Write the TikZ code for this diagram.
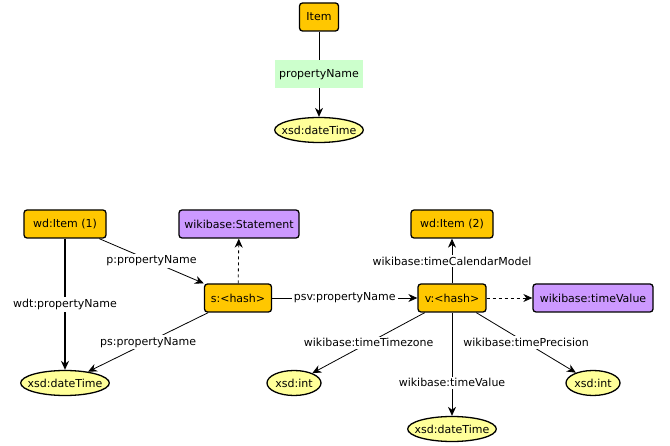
\documentclass[tikz,border=0pt]{standalone}
\usepackage{fontspec}
\setmainfont{DejaVu Sans}
\usepackage{tikz}
\usetikzlibrary{arrows.meta, shapes.geometric}
\definecolor{itemOrange}{rgb}{1,0.78,0}
\definecolor{classPurple}{rgb}{0.8,0.6,1}
\definecolor{literalYellow}{rgb}{1,1,0.6}
\definecolor{propGreen}{rgb}{0.8,1,0.8}
\tikzset{
  res/.style={draw, line width=1.3pt, rounded corners=3pt, fill=itemOrange, minimum height=28pt, inner xsep=4pt, font=\fontsize{11}{13}\selectfont},
  cls/.style={res, fill=classPurple},
  lit/.style={draw, line width=1.3pt, ellipse, fill=literalYellow, minimum height=25pt, inner xsep=-6pt, font=\fontsize{11}{13}\selectfont},
  lbl/.style={fill=white, inner sep=2pt, font=\fontsize{11}{13}\selectfont},
  rel/.style={-{Stealth[length=9pt,width=8pt]}, line width=0.8pt},
}
\begin{document}
\begin{tikzpicture}[x=1pt, y=-1pt]
	\useasboundingbox (0,0) rectangle (670,446);
	% top: generic pattern
	\node[res, minimum width=39pt] (item) at (319,17) {Item};
	\node[lit] (top date) at (319,130) {xsd:dateTime};
	\draw[rel] (item) -- node[fill=propGreen, minimum height=28pt, inner xsep=4pt, font=\fontsize{11}{13}\selectfont] (prop) {propertyName} (top date);
	% bottom: statement and value nodes
	\node[res, minimum width=82pt] (item1) at (65,224) {wd:Item (1)};
	\node[cls, minimum width=120pt] (stmt class) at (239,224) {wikibase:Statement};
	\node[res, minimum width=67pt] (s hash) at (238,298) {s:<hash>};
	\node[lit] (date1) at (65,383) {xsd:dateTime};
	\node[res, minimum width=68pt] (v hash) at (452,298) {v:<hash>};
	\node[res, minimum width=82pt] (item2) at (452,224) {wd:Item (2)};
	\node[cls, minimum width=120pt] (value class) at (593,298) {wikibase:timeValue};
	\node[lit, minimum width=54pt] (int1) at (294,383) {xsd:int};
	\node[lit, minimum width=54pt] (int2) at (593,383) {xsd:int};
	\node[lit] (date2) at (452,429) {xsd:dateTime};

	\draw[rel, line width=2.4pt] (item1) -- node[lbl] {wdt:propertyName} (date1);
	\draw[rel] (item1) -- node[lbl] {p:propertyName} (s hash);
	\draw[rel, dashed] (s hash) -- (stmt class);
	\draw[rel] (s hash) -- node[lbl] {ps:propertyName} (date1);
	\draw[rel] (s hash) -- node[lbl] {psv:propertyName} (v hash);
	\draw[rel] (v hash) -- node[lbl] {wikibase:timeCalendarModel} (item2);
	\draw[rel, dashed] (v hash) -- (value class);
	\draw[rel] (v hash) -- node[lbl] {wikibase:timeTimezone} (int1);
	\draw[rel] (v hash) -- node[lbl] {wikibase:timePrecision} (int2);
	\draw[rel] (v hash) -- node[lbl, pos=0.68] {wikibase:timeValue} (date2);
\end{tikzpicture}
\end{document}
